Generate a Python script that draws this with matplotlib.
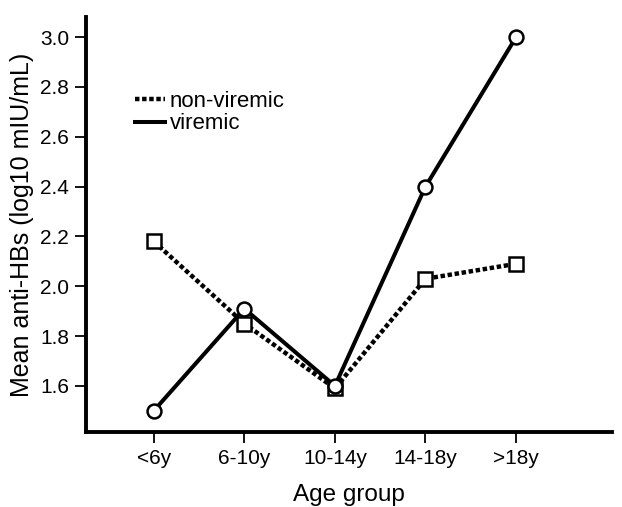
import matplotlib
matplotlib.use('Agg')
import matplotlib.pyplot as plt

age_groups = ['<6y', '6-10y', '10-14y', '14-18y', '>18y']
non_viremic = [2.18, 1.85, 1.59, 2.03, 2.09]
viremic = [1.50, 1.91, 1.60, 2.40, 3.00]

plt.rcParams['font.family'] = ['Liberation Sans', 'DejaVu Sans']

fig = plt.figure(figsize=(6.22, 5.07), dpi=100)
ax = fig.add_axes([0.138, 0.148, 0.846, 0.818])

x = range(len(age_groups))
ax.plot(x, non_viremic, color='black', linestyle=(0, (1, 0.6)), linewidth=3.2,
        marker='s', markersize=10, markerfacecolor='white', markeredgecolor='black',
        markeredgewidth=1.8, label='non-viremic')
ax.plot(x, viremic, color='black', linestyle='-', linewidth=2.9,
        marker='o', markersize=10, markerfacecolor='white', markeredgecolor='black',
        markeredgewidth=1.8, label='viremic')

ax.set_xlim(-0.75, 5.06)
ax.set_ylim(1.415, 3.08)
ax.set_xticks(list(x))
ax.set_xticklabels(age_groups)
ax.set_yticks([1.6, 1.8, 2.0, 2.2, 2.4, 2.6, 2.8, 3.0])
ax.set_yticklabels([f'{v:.1f}' for v in [1.6, 1.8, 2.0, 2.2, 2.4, 2.6, 2.8, 3.0]])

for side in ['top', 'right']:
    ax.spines[side].set_visible(False)
for side in ['left', 'bottom']:
    ax.spines[side].set_linewidth(2.8)
ax.tick_params(direction='out', length=8, width=1.3, labelsize=15, pad=4)

ax.set_xlabel('Age group', fontsize=17.5, labelpad=12)
ax.set_ylabel('Mean anti-HBs (log10 mIU/mL)', fontsize=18, labelpad=4)

leg = ax.legend(loc='upper left', bbox_to_anchor=(0.076, 0.843), frameon=False,
                handlelength=1.35, handletextpad=0.22, labelspacing=0.05,
                fontsize=16, borderaxespad=0)
for h in leg.legend_handles:
    h.set_marker('')

plt.savefig('out.png', dpi=100)
plt.close()
